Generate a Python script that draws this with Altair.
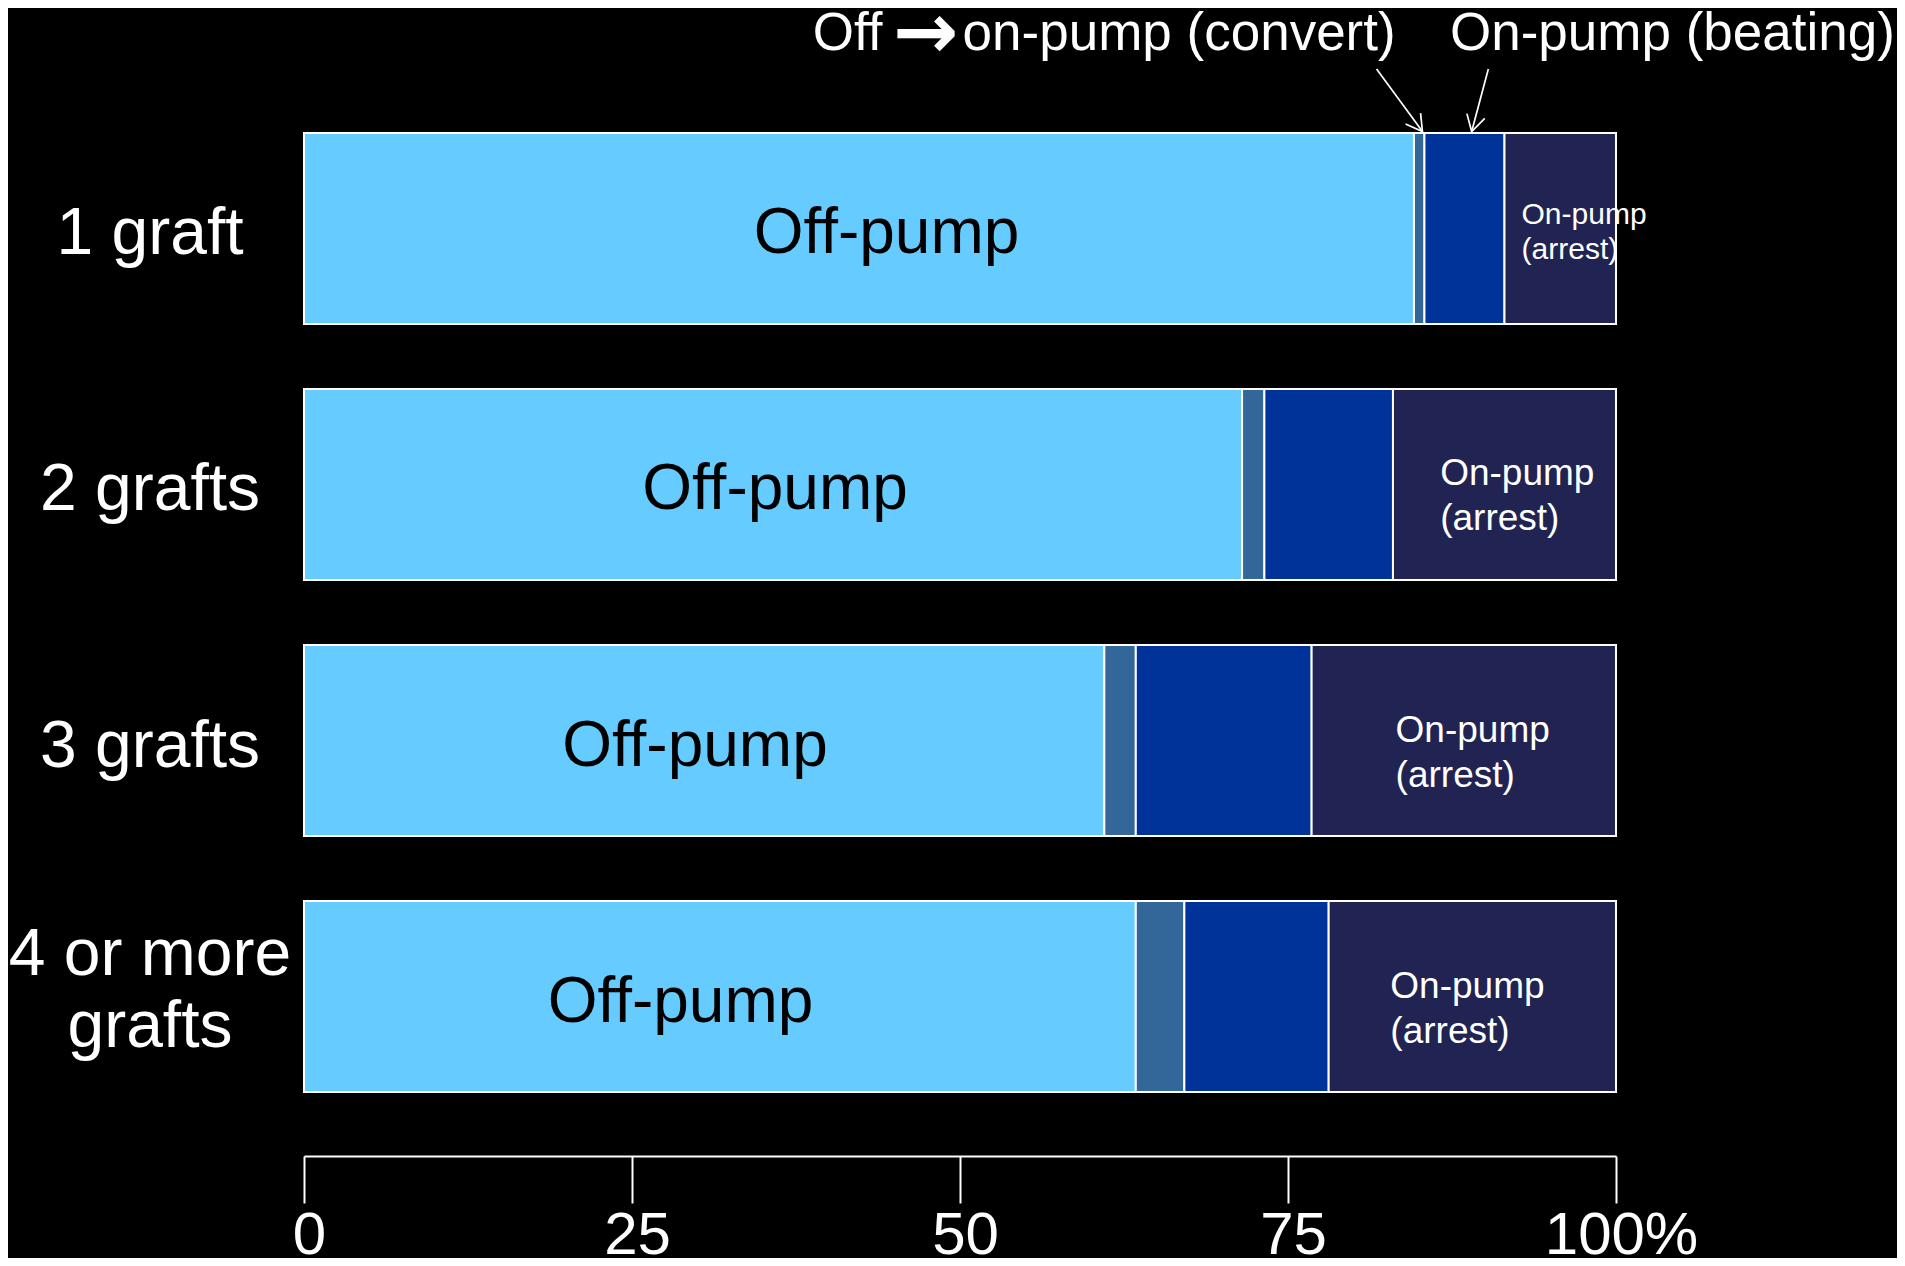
import altair as alt
import pandas as pd

# ---- data (percent of patients) ----
groups = ["1 graft", "2 grafts", "3 grafts", "4 or more grafts"]
group_labels = ["1 graft", "2 grafts", "3 grafts", "4 or more\ngrafts"]
off_pump = [84.6, 71.5, 61.0, 63.4]
convert = [0.8, 1.7, 2.4, 3.7]
beating = [6.1, 9.8, 13.4, 11.0]
arrest = [8.5, 17.0, 23.2, 21.9]

segments = ["Off-pump", "Off→on-pump (convert)", "On-pump (beating)", "On-pump (arrest)"]
seg_colors = ["#66CCFF", "#336699", "#003399", "#212452"]

x_ticks = [0, 25, 50, 75, 100]

# in-bar label positions (percent units)
off_label_x = [44.4, 35.9, 29.8, 28.7]
arrest_label_x = [92.8, 86.6, 83.2, 82.8]

# top annotations (percent units)
conv_parts = ["Off", "→", "on-pump (convert)"]
conv_x = [44.1, 47.4, 50.2]
beat_text = ["On-pump (beating)"]
beat_x = [104.3]
arrow_x_start = [81.75, 90.27]
arrow_x_end = [85.25, 89.0]
arrow_angle = [324, 15]

FONT = "Liberation Sans, Arial, sans-serif"

rows = []
for i, g in enumerate(groups):
    start = 0.0
    for s, vals in zip(segments, [off_pump, convert, beating, arrest]):
        v = vals[i]
        rows.append({"group": g, "segment": s, "start": start, "end": start + v})
        start += v
df = pd.DataFrame(rows)

x_scale = alt.Scale(domain=[0, 100], nice=False, zero=False)
y_scale = alt.Scale(domain=groups, paddingInner=0.254, paddingOuter=0)


def Y():
    return alt.Y("group:N", scale=y_scale, sort=groups, title=None, axis=None)


bars = alt.Chart(df).mark_bar(stroke="white", strokeWidth=2).encode(
    x=alt.X("start:Q", scale=x_scale, title=None,
            axis=alt.Axis(values=x_ticks,
                          labelExpr="datum.value == 100 ? '100%' : datum.label",
                          domainColor="white", domainWidth=2,
                          tickColor="white", tickWidth=2, tickSize=47,
                          offset=64, labelColor="white", labelFontSize=60,
                          labelFont=FONT, labelPadding=3, labelOffset=5,
                          grid=False, title=None, labelFlush=False,
                          labelOverlap=False)),
    x2="end:Q",
    y=Y(),
    color=alt.Color("segment:N", scale=alt.Scale(domain=segments, range=seg_colors), legend=None),
)

# category labels on the left
lab_df = pd.DataFrame({"group": groups, "label": group_labels})
ylab_single = alt.Chart(lab_df.iloc[:3]).mark_text(
    font=FONT, fontSize=66, color="white", align="center", baseline="middle", dy=6
).encode(x=alt.value(-154), y=Y(), text="label:N")
ylab_multi = alt.Chart(lab_df.iloc[3:]).mark_text(
    font=FONT, fontSize=66, color="white", align="center", baseline="middle",
    lineBreak="\n", lineHeight=72, dy=-42
).encode(x=alt.value(-154), y=Y(), text="label:N")

off_df = pd.DataFrame({"group": groups, "x": off_label_x, "text": ["Off-pump"] * len(groups)})
off_text = alt.Chart(off_df).mark_text(
    font=FONT, fontSize=64, color="black", align="center", baseline="middle", dy=6
).encode(
    x=alt.X("x:Q", scale=x_scale, title=None),
    y=Y(),
    text="text:N",
)

arr_df = pd.DataFrame({"group": groups, "x": arrest_label_x,
                       "text": ["On-pump\n(arrest)"] * len(groups)})
arr_text1 = alt.Chart(arr_df.iloc[:1]).mark_text(
    font=FONT, fontSize=30, color="white", align="left", baseline="middle",
    lineBreak="\n", lineHeight=35, dy=-13
).encode(
    x=alt.X("x:Q", scale=x_scale, title=None),
    y=Y(),
    text="text:N",
)
arr_text2 = alt.Chart(arr_df.iloc[1:]).mark_text(
    font=FONT, fontSize=37, color="white", align="left", baseline="middle",
    lineBreak="\n", lineHeight=45, dy=-10
).encode(
    x=alt.X("x:Q", scale=x_scale, title=None),
    y=Y(),
    text="text:N",
)

# top annotations
conv_df = pd.DataFrame({"x": conv_x, "text": conv_parts})
conv_off = alt.Chart(conv_df.iloc[:1]).mark_text(
    font=FONT, fontSize=53, color="white", align="right", baseline="alphabetic"
).encode(x=alt.X("x:Q", scale=x_scale, title=None), y=alt.value(-83), text="text:N")
conv_arrow = alt.Chart(conv_df.iloc[1:2]).mark_text(
    font="DejaVu Sans", fontWeight="bold", fontSize=78, color="white",
    align="center", baseline="alphabetic"
).encode(x=alt.X("x:Q", scale=x_scale, title=None), y=alt.value(-75), text="text:N")
conv_rest = alt.Chart(conv_df.iloc[2:]).mark_text(
    font=FONT, fontSize=53, color="white", align="left", baseline="alphabetic"
).encode(x=alt.X("x:Q", scale=x_scale, title=None), y=alt.value(-83), text="text:N")

beat_df = pd.DataFrame({"x": beat_x, "text": beat_text})
beat = alt.Chart(beat_df).mark_text(
    font=FONT, fontSize=53, color="white", align="center", baseline="alphabetic"
).encode(x=alt.X("x:Q", scale=x_scale, title=None), y=alt.value(-83), text="text:N")

arrow_df = pd.DataFrame({"x0": arrow_x_start, "x1": arrow_x_end, "angle": arrow_angle})
arrow_lines = alt.Chart(arrow_df).mark_rule(color="white", strokeWidth=1.7).encode(
    x=alt.X("x0:Q", scale=x_scale, title=None),
    x2="x1:Q",
    y=alt.value(-64),
    y2=alt.value(-1.5),
)
arrow_heads = alt.Chart(arrow_df).mark_point(
    shape="M-0.5,-0.866L0,0L0.5,-0.866", filled=False, size=1369,
    stroke="white", strokeWidth=1.7, opacity=1
).encode(
    x=alt.X("x1:Q", scale=x_scale, title=None),
    y=alt.value(-1.5),
    angle=alt.Angle("angle:Q", scale=None),
)

chart = alt.layer(
    bars, ylab_single, ylab_multi, off_text, arr_text1, arr_text2,
    conv_off, conv_arrow, conv_rest, beat, arrow_lines, arrow_heads
).properties(
    width=1312,
    height=959,
    padding={"left": 296, "top": 125, "right": 281, "bottom": 166},
    autosize=alt.AutoSizeParams(type="none"),
).configure(
    background="black"
).configure_view(
    stroke=None
)

chart.save("out.html", embed_options={"renderer": "svg", "actions": False})
